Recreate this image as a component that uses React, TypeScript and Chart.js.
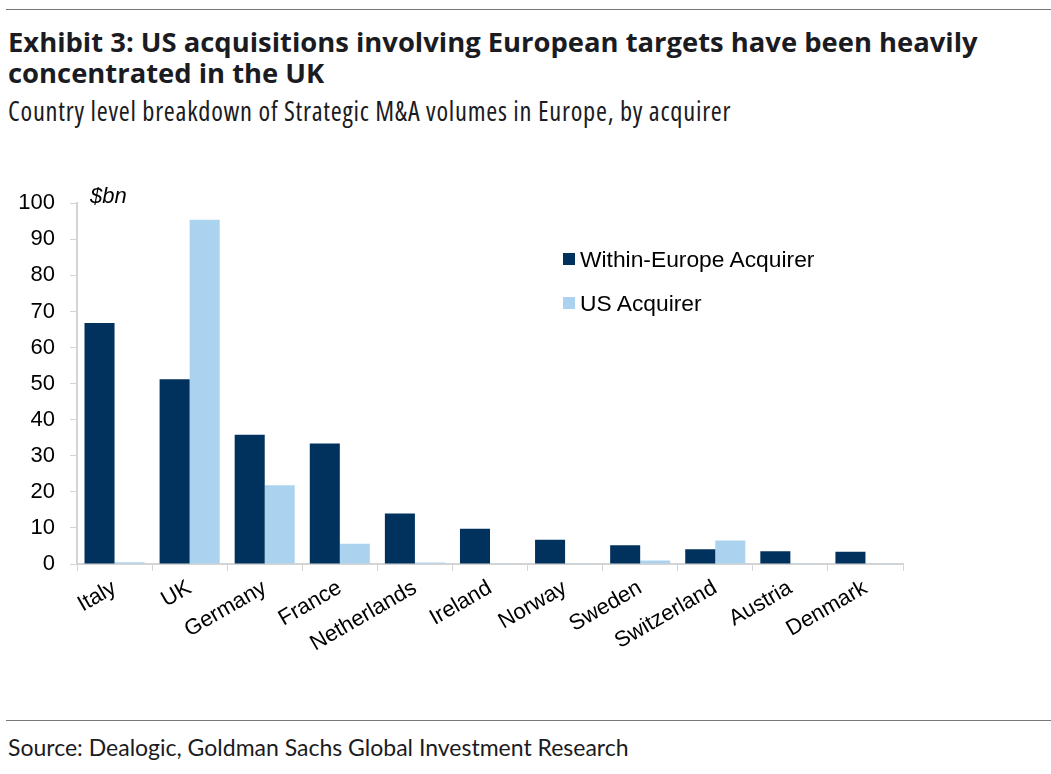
import { useEffect, useRef } from 'react';
import { Chart, registerables } from 'chart.js';

Chart.register(...registerables);

const countries = ['Italy', 'UK', 'Germany', 'France', 'Netherlands', 'Ireland', 'Norway', 'Sweden', 'Switzerland', 'Austria', 'Denmark'];
const withinEurope = [66.8, 51.2, 35.8, 33.4, 14.0, 9.8, 6.7, 5.2, 4.1, 3.5, 3.4];
const usAcquirer = [0.5, 95.4, 21.8, 5.6, 0.4, 0.1, 0.1, 1.0, 6.5, 0.1, 0.1];
const yTicks = [0, 10, 20, 30, 40, 50, 60, 70, 80, 90, 100];

const DARK = '#00325d';
const LIGHT = '#abd3f0';
const AXIS = '#d4d4d4';

const ARIAL = '"Liberation Sans", Arial, sans-serif';
const HEAD = '"Open Sans", "Noto Sans", sans-serif';

export default function App() {
  const canvasRef = useRef<HTMLCanvasElement>(null);
  const chartRef = useRef<Chart | null>(null);

  useEffect(() => {
    if (!canvasRef.current) return;
    if (chartRef.current) chartRef.current.destroy();
    const ctx = canvasRef.current.getContext('2d');
    if (!ctx) return;

    chartRef.current = new Chart(ctx, {
      type: 'bar',
      data: {
        labels: countries,
        datasets: [
          {
            label: 'Within-Europe Acquirer',
            data: withinEurope,
            backgroundColor: DARK,
            categoryPercentage: 0.8,
            barPercentage: 1.0
          },
          {
            label: 'US Acquirer',
            data: usAcquirer,
            backgroundColor: LIGHT,
            categoryPercentage: 0.8,
            barPercentage: 1.0
          }
        ]
      },
      options: {
        animation: false,
        responsive: true,
        maintainAspectRatio: false,
        layout: {
          padding: { top: 24, left: 18, right: 27, bottom: 0 }
        },
        plugins: {
          legend: { display: false },
          tooltip: { enabled: false }
        },
        scales: {
          x: {
            // keep the rotated first label from pushing the plot area right
            afterFit: (scale: any) => {
              scale.paddingLeft = 0;
              scale.paddingRight = 0;
              scale.height = 100;
            },
            grid: {
              display: true,
              drawOnChartArea: false,
              drawTicks: true,
              tickLength: 7,
              color: AXIS,
              offset: true
            },
            border: { display: true, color: AXIS, width: 2 },
            ticks: {
              color: '#000',
              font: { family: ARIAL, size: 22 },
              minRotation: 30,
              maxRotation: 30,
              padding: 4,
              autoSkip: false
            }
          },
          y: {
            min: 0,
            max: 100,
            afterBuildTicks: (axis) => {
              axis.ticks = yTicks.map((v) => ({ value: v }));
            },
            afterFit: (scale: any) => {
              scale.width = 59;
            },
            grid: {
              display: true,
              drawOnChartArea: false,
              drawTicks: true,
              tickLength: 7,
              color: AXIS
            },
            border: { display: true, color: AXIS, width: 2 },
            ticks: {
              color: '#000',
              font: { family: ARIAL, size: 22 },
              padding: 15
            }
          }
        }
      }
    });

    return () => {
      if (chartRef.current) {
        chartRef.current.destroy();
        chartRef.current = null;
      }
    };
  }, []);

  const legendItem = (color: string, text: string, top: number) => (
    <div style={{ position: 'absolute', left: 563, top, height: 26, display: 'flex', alignItems: 'center' }}>
      <div style={{ width: 12, height: 12, background: color, marginRight: 5 }} />
      <span style={{ fontFamily: ARIAL, fontSize: 22.8, color: '#000' }}>{text}</span>
    </div>
  );

  return (
    <div style={{ position: 'absolute', left: 0, top: 0, width: 1051, height: 774, background: '#fff', overflow: 'hidden' }}>
      <div style={{ position: 'absolute', left: 6, right: 0, top: 9, borderTop: '1px solid #777' }} />
      <div
        style={{
          position: 'absolute',
          left: 8,
          top: 26,
          width: 1040,
          fontFamily: HEAD,
          fontWeight: 'bold',
          fontSize: 27.4,
          lineHeight: '31px',
          color: '#1b1b22',
          whiteSpace: 'nowrap'
        }}
      >
        Exhibit 3: US acquisitions involving European targets have been heavily
        <br />
        concentrated in the UK
      </div>
      <div
        style={{
          position: 'absolute',
          left: 8,
          top: 96,
          fontFamily: HEAD,
          fontStretch: 'condensed',
          fontSize: 26.5,
          letterSpacing: 0.75,
          lineHeight: '30px',
          color: '#1b1b22',
          whiteSpace: 'nowrap'
        }}
      >
        Country level breakdown of Strategic M&amp;A volumes in Europe, by acquirer
      </div>

      <div style={{ position: 'absolute', left: 0, top: 175, width: 930, height: 489 }}>
        <canvas ref={canvasRef} />
      </div>

      <div
        style={{
          position: 'absolute',
          left: 90,
          top: 183,
          fontFamily: ARIAL,
          fontStyle: 'italic',
          fontSize: 22,
          color: '#000'
        }}
      >
        $bn
      </div>
      {legendItem(DARK, 'Within-Europe Acquirer', 246)}
      {legendItem(LIGHT, 'US Acquirer', 290)}

      <div style={{ position: 'absolute', left: 6, right: 0, top: 720, borderTop: '1px solid #777' }} />
      <div
        style={{
          position: 'absolute',
          left: 8,
          top: 732,
          fontFamily: 'Lato, "Noto Sans", sans-serif',
          fontSize: 23,
          lineHeight: '30px',
          color: '#1b1b22',
          whiteSpace: 'nowrap'
        }}
      >
        Source: Dealogic, Goldman Sachs Global Investment Research
      </div>
    </div>
  );
}
